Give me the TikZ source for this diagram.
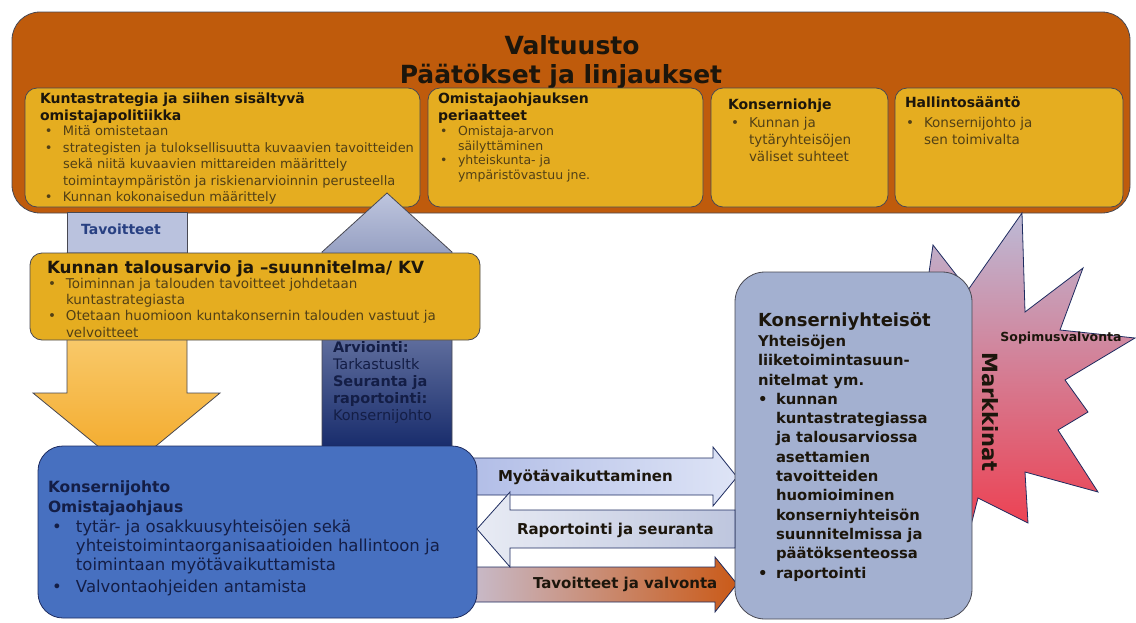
\documentclass[tikz,border=0pt]{standalone}
\usepackage{fontspec}
\setmainfont{DejaVu Sans}
\usetikzlibrary{positioning}

\definecolor{valtorange}{RGB}{191,91,12}
\definecolor{ygold}{RGB}{229,173,32}
\definecolor{ytext}{RGB}{82,64,22}
\definecolor{titlek}{RGB}{28,22,12}
\definecolor{konblue}{RGB}{71,112,192}
\definecolor{navytext}{RGB}{20,30,70}
\definecolor{greyblue}{RGB}{163,176,208}
\definecolor{tavfill}{RGB}{186,194,222}
\definecolor{tavtext}{RGB}{40,64,130}
\definecolor{edgegray}{RGB}{72,72,82}
\definecolor{edgenavy}{RGB}{30,44,96}

\newcommand{\bul}{\makebox[18pt][l]{\textbullet}}
\newcommand{\ind}{\hspace*{18pt}}
\newcommand{\wbul}{\makebox[24pt][l]{\textbullet}}
\newcommand{\wind}{\hspace*{24pt}}
\newcommand{\fs}[2]{\fontsize{#1}{#2}\selectfont}

\begin{document}
\begin{tikzpicture}[x=1pt, y=-1pt,
    every node/.style={inner sep=0pt, outer sep=0pt},
    frame/.style={draw=edgegray, line width=0.8pt},
    ybox/.style={frame, fill=ygold, rounded corners=12pt},
    ttl/.style={anchor=north west, align=left, font=\bfseries\fs{14}{17}, text=titlek},
    btxt/.style={anchor=north west, align=left, font=\fs{13}{16.5}, text=ytext},
    arrowlbl/.style={anchor=west, font=\bfseries\fs{15}{17}, text=titlek},
  ]
  \useasboundingbox (0,0) rectangle (1136,622);

  \node[frame, fill=valtorange, rounded corners=28pt,
        minimum width=1118pt, minimum height=201pt] (valt) at (571,112.5) {};
  \node[anchor=base, font=\bfseries\fs{25}{28}, text=titlek] (valttitle) at (572,54) {Valtuusto};
  \node[anchor=base, font=\bfseries\fs{25}{28}, text=titlek] (paat) at (561,83) {Päätökset ja linjaukset};

  \node[ybox, minimum width=395pt, minimum height=119pt] (strat) at (222.5,147.5) {};
  \node[ybox, minimum width=275pt, minimum height=119pt] (periaat) at (565.5,147.5) {};
  \node[ybox, minimum width=177pt, minimum height=119pt] (kohje) at (799.5,147.5) {};
  \node[ybox, minimum width=228pt, minimum height=119pt] (hsaanto) at (1009,147.5) {};

  \node[ttl] (strattitle) at (40,93) {Kuntastrategia ja siihen sisältyvä\\omistajapolitiikka};
  \node[btxt] (stratlist) at (45,126) {\bul Mitä omistetaan\\
    \bul strategisten ja tuloksellisuutta kuvaavien tavoitteiden\\
    \ind sekä niitä kuvaavien mittareiden määrittely\\
    \ind toimintaympäristön ja riskienarvioinnin perusteella\\
    \bul Kunnan kokonaisedun määrittely};

  \node[ttl] (periaattitle) at (438,93) {Omistajaohjauksen\\periaatteet};
  \node[btxt, font=\fs{12.5}{14.7}] (periaatlist) at (440,126) {\bul Omistaja-arvon\\
    \ind säilyttäminen\\\bul yhteiskunta- ja\\\ind ympäristövastuu jne.};

  \node[ttl] (kohjetitle) at (728,99) {Konserniohje};
  \node[btxt, font=\fs{13.5}{17}] (kohjelist) at (731,117) {\bul Kunnan ja\\
    \ind tytäryhteisöjen\\\ind väliset suhteet};

  \node[ttl] (hsaantotitle) at (905,97) {Hallintosääntö};
  \node[btxt, font=\fs{13.5}{17}] (hsaantolist) at (906,117) {\bul Konsernijohto ja\\
    \ind sen toimivalta};

  \node[frame, fill=tavfill, minimum width=120pt, minimum height=41pt] (tav) at (127,233) {};
  \node[font=\bfseries\fs{14}{16}, text=tavtext] (tavtitle) at (121,229) {Tavoitteet};

  \shade[frame, top color={rgb,255:red,252;green,222;blue,150}, bottom color={rgb,255:red,243;green,168;blue,38}]
    (67,253) -- (187,253) -- (187,393) -- (220,393) -- (127,470) -- (33,393) -- (67,393) -- cycle;

  \shade[frame, top color={rgb,255:red,190;green,197;blue,222}, bottom color={rgb,255:red,24;green,44;blue,108}]
    (322,447) -- (322,252) -- (387,193) -- (452,252) -- (452,447) -- cycle;

  \node[ybox, minimum width=450pt, minimum height=87pt] (budget) at (255,296.5) {};
  \node[ttl, font=\bfseries\fs{16.8}{18}] (budgettitle) at (47,261) {Kunnan talousarvio ja –suunnitelma/ KV};
  \node[btxt, font=\fs{13.5}{16.3}] (budgetlist) at (48,278) {\bul Toiminnan ja talouden tavoitteet johdetaan\\
    \ind kuntastrategiasta\\
    \bul Otetaan huomioon kuntakonsernin talouden vastuut ja\\
    \ind velvoitteet};

  \node[anchor=north west, align=left, font=\fs{14.5}{17}, text=navytext] (arvio) at (333,341)
    {\textbf{Arviointi:}\\Tarkastusltk\\\textbf{Seuranta ja}\\\textbf{raportointi:}\\Konsernijohto};

  \shade[draw=edgenavy, line width=0.8pt, left color={rgb,255:red,176;green,188;blue,230}, right color={rgb,255:red,222;green,228;blue,246}]
    (462,458) -- (713,458) -- (713,447) -- (737,477) -- (713,506) -- (713,495) -- (462,495) -- cycle;
  \shade[draw=edgenavy, line width=0.8pt, left color={rgb,255:red,200;green,190;blue,208}, right color={rgb,255:red,202;green,90;blue,24}]
    (462,567) -- (715,567) -- (715,557) -- (737,584) -- (715,612) -- (715,602) -- (462,602) -- cycle;

  \node[frame, draw=edgenavy, fill=konblue, rounded corners=25pt,
        minimum width=439pt, minimum height=172pt] (kjohto) at (257.5,532) {};
  \node[anchor=north west, align=left, font=\bfseries\fs{15.5}{19.5}, text=navytext] (kjohtotitle) at (48,481)
    {Konsernijohto\\Omistajaohjaus};
  \node[anchor=north west, align=left, font=\fs{16.5}{19}, text=navytext] (kjohtolist) at (52,520)
    {\wbul tytär- ja osakkuusyhteisöjen sekä\\
    \wind yhteistoimintaorganisaatioiden hallintoon ja\\
    \wind toimintaan myötävaikuttamista\\[3pt]
    \wbul Valvontaohjeiden antamista};

  \shade[frame, draw=edgenavy, top color={rgb,255:red,188;green,186;blue,214}, bottom color={rgb,255:red,242;green,52;blue,68}]
    (933,245) -- (968,290) -- (1022,213) -- (1025,312) -- (1083,268) -- (1060,330) -- (1135,338)
    -- (1065,380) -- (1088,412) -- (1058,430) -- (1098,492) -- (1025,472) -- (1028,523)
    -- (978,498) -- (962,560) -- (900,520) -- (925,300) -- cycle;
  \node[rotate=-90, font=\bfseries\fs{21}{24}, text=titlek] (markk) at (990,412) {Markkinat};
  \node[font=\bfseries\fs{12.5}{14}, text=titlek] (sopim) at (1061,338) {Sopimusvalvonta};

  \node[frame, fill=greyblue, rounded corners=30pt,
        minimum width=237pt, minimum height=347pt] (kyht) at (853.5,445.5) {};
  \node[anchor=north west, font=\bfseries\fs{18}{20}, text=titlek] (kyhttitle) at (758,313) {Konserniyhteisöt};
  \node[anchor=north west, align=left, font=\bfseries\fs{14.8}{19.3}, text=titlek] (kyhtlist) at (758,335)
    {Yhteisöjen\\liiketoimintasuun-\\nitelmat ym.\\
    \bul kunnan\\\ind kuntastrategiassa\\\ind ja talousarviossa\\\ind asettamien\\
    \ind tavoitteiden\\\ind huomioiminen\\\ind konserniyhteisön\\\ind suunnitelmissa ja\\
    \ind päätöksenteossa\\\bul raportointi};

  \shade[draw=edgenavy, line width=0.8pt, left color={rgb,255:red,232;green,235;blue,244}, right color={rgb,255:red,190;green,198;blue,222}]
    (477,529) -- (510,492) -- (510,510) -- (735,510) -- (735,548) -- (510,548) -- (510,567) -- cycle;

  \node[arrowlbl] (myotav) at (498,477) {Myötävaikuttaminen};
  \node[arrowlbl] (raport) at (517,530) {Raportointi ja seuranta};
  \node[arrowlbl] (tavval) at (533,584) {Tavoitteet ja valvonta};
\end{tikzpicture}
\end{document}
